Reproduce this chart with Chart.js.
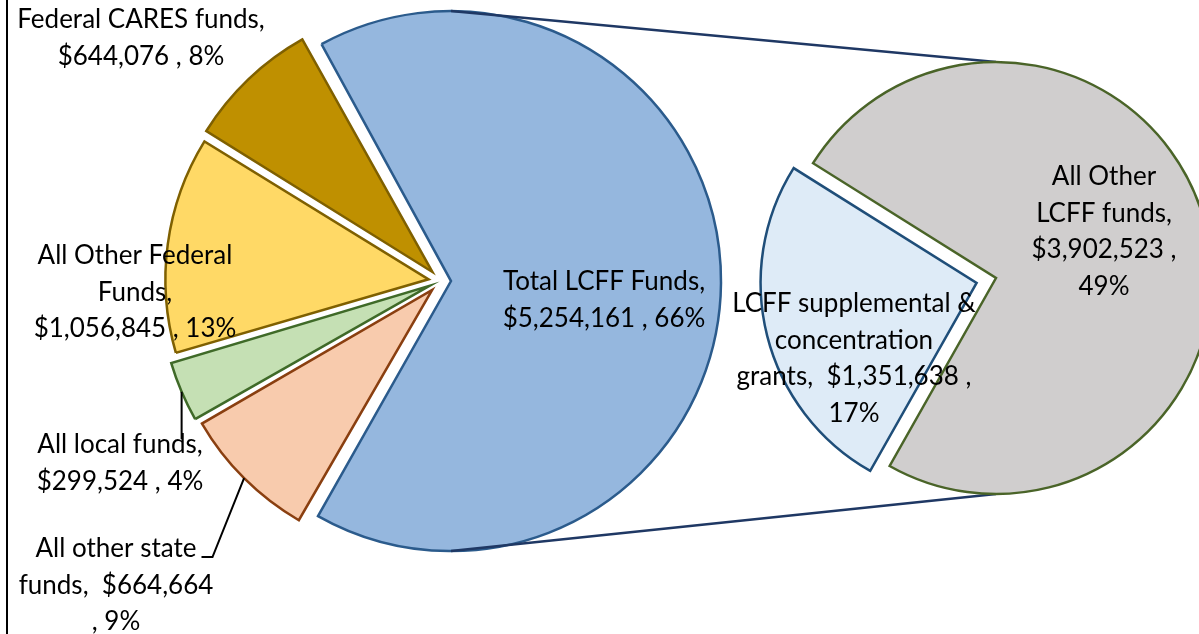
<!DOCTYPE html>
<html>
<head>
<meta charset="utf-8">
<script src="https://cdn.jsdelivr.net/npm/chart.js@4.4.1/dist/chart.umd.min.js"></script>
<style>
  body { margin: 0; background: #fff; }
  #wrap { position: relative; width: 1199px; height: 634px; overflow: hidden; background: #fff; }
  #wrap canvas { position: absolute; left: 0; top: 0; }
  #frame { position: absolute; left: 6px; top: 0; width: 2px; height: 634px; background: #000; }
</style>
</head>
<body>
<div id="wrap">
  <canvas id="mainPie" width="1199" height="634"></canvas>
  <canvas id="subPie" width="1199" height="634"></canvas>
  <div id="frame"></div>
</div>
<script>
// main pie, clockwise from the LCFF slice
const mainLabels = ['Total LCFF Funds', 'All other state funds', 'All local funds', 'All Other Federal Funds', 'Federal CARES funds'];
const mainValues = [5254161, 664664, 299524, 1056845, 644076];
const mainPercents = [66, 9, 4, 13, 8];

// secondary pie: split of Total LCFF Funds
const subLabels = ['LCFF supplemental & concentration grants', 'All Other LCFF funds'];
const subValues = [1351638, 3902523];
const subPercents = [17, 49];

const mainFill = ['#95b7de', '#f8cbad', '#c5e0b4', '#ffd966', '#bf9000'];
const mainBorder = ['#2b5b8c', '#8a3f10', '#3f6a28', '#7f6000', '#7f6000'];
const subFill = ['#deebf7', '#d0cece'];
const subBorder = ['#1f4e79', '#4a6428'];

const FONT = '26px Lato';
const LINE_H = 36.5;

const money = v => '$' + v.toLocaleString('en-US');

// label text + placement (centre x, first baseline)
const mainText = [
  i => ['Total LCFF Funds,', money(mainValues[i]) + ' , ' + mainPercents[i] + '%'],
  i => ['All other state', 'funds,  ' + money(mainValues[i]), ', ' + mainPercents[i] + '%'],
  i => ['All local funds,', money(mainValues[i]) + ' , ' + mainPercents[i] + '%'],
  i => ['All Other Federal', 'Funds,', money(mainValues[i]) + ' , ' + mainPercents[i] + '%'],
  i => ['Federal CARES funds,', money(mainValues[i]) + ' , ' + mainPercents[i] + '%']
];
const mainLabelPos = [[604, 290], [116, 557], [120, 453], [135, 264], [141, 28]];
const subText = [
  i => ['LCFF supplemental &', 'concentration', 'grants,  ' + money(subValues[i]) + ' ,', subPercents[i] + '%'],
  i => ['All Other', 'LCFF funds,', money(subValues[i]) + ' ,', subPercents[i] + '%']
];
const subLabelPos = [[854, 312], [1104, 185]];

// where a slice really sits once its offset is applied
function arcGeom(el) {
  const mid = (el.startAngle + el.endAngle) / 2;
  const t = (el.options.offset || 0) / 4;
  const fix = 1 - Math.sin(Math.min(Math.PI, el.circumference));
  return {
    x: el.x + Math.cos(mid) * t,
    y: el.y + Math.sin(mid) * t,
    r: el.outerRadius + t * fix,
    mid: mid
  };
}

function drawLines(ctx, lines, cx, y0) {
  ctx.save();
  ctx.font = FONT;
  ctx.fillStyle = '#000';
  ctx.textAlign = 'center';
  ctx.textBaseline = 'alphabetic';
  lines.forEach((s, k) => ctx.fillText(s, cx, y0 + k * LINE_H));
  ctx.restore();
}

const mainChart = new Chart(document.getElementById('mainPie'), {
  type: 'pie',
  data: {
    labels: mainLabels,
    datasets: [{
      data: mainValues,
      backgroundColor: mainFill,
      borderColor: mainBorder,
      borderWidth: 2.5,
      borderJoinStyle: 'miter',
      offset: [40, 50, 50, 50, 50],
      radius: 260
    }]
  },
  options: {
    responsive: false,
    animation: false,
    events: [],
    rotation: 331,
    layout: { padding: { left: 0, top: 0, right: 317, bottom: 72 } },
    plugins: { legend: { display: false }, tooltip: { enabled: false } }
  }
});

const overlay = {
  id: 'overlay',
  beforeDatasetsDraw(chart) {
    const ctx = chart.ctx;
    const lcff = arcGeom(mainChart.getDatasetMeta(0).data[0]);
    const other = arcGeom(chart.getDatasetMeta(0).data[1]);
    ctx.save();
    ctx.strokeStyle = '#1f3864';
    ctx.lineWidth = 2.5;
    ctx.beginPath();
    ctx.moveTo(lcff.x, lcff.y - lcff.r);
    ctx.lineTo(other.x, other.y - other.r);
    ctx.moveTo(lcff.x, lcff.y + lcff.r);
    ctx.lineTo(other.x, other.y + other.r);
    ctx.stroke();
    ctx.restore();
  },
  afterDraw(chart) {
    const ctx = chart.ctx;
    const mainArcs = mainChart.getDatasetMeta(0).data;

    mainText.forEach((fn, i) => drawLines(ctx, fn(i), mainLabelPos[i][0], mainLabelPos[i][1]));
    subText.forEach((fn, i) => drawLines(ctx, fn(i), subLabelPos[i][0], subLabelPos[i][1]));

    // leader lines for the two thin slices
    ctx.save();
    ctx.font = FONT;
    ctx.strokeStyle = '#000';
    ctx.lineWidth = 2;

    const local = arcGeom(mainArcs[2]);
    const lp = [local.x + Math.cos(local.mid) * local.r, local.y + Math.sin(local.mid) * local.r];
    ctx.beginPath();
    ctx.moveTo(lp[0], lp[1]);
    ctx.lineTo(lp[0], mainLabelPos[2][1] - 14);
    ctx.stroke();

    const state = arcGeom(mainArcs[1]);
    const sp = [state.x + Math.cos(state.mid) * state.r, state.y + Math.sin(state.mid) * state.r];
    const firstLine = mainText[1](1)[0];
    const right = mainLabelPos[1][0] + ctx.measureText(firstLine).width / 2;
    ctx.beginPath();
    ctx.moveTo(sp[0], sp[1]);
    ctx.lineTo(right + 16, mainLabelPos[1][1]);
    ctx.lineTo(right + 5, mainLabelPos[1][1]);
    ctx.stroke();
    ctx.restore();
  }
};

const subChart = new Chart(document.getElementById('subPie'), {
  type: 'pie',
  data: {
    labels: subLabels,
    datasets: [{
      data: subValues,
      backgroundColor: subFill,
      borderColor: subBorder,
      borderWidth: 2.5,
      borderJoinStyle: 'miter',
      offset: [80, 0],
      radius: 216
    }]
  },
  options: {
    responsive: false,
    animation: false,
    events: [],
    rotation: 209.5,
    layout: { padding: { left: 793, top: 0, right: 0, bottom: 78 } },
    plugins: { legend: { display: false }, tooltip: { enabled: false } }
  },
  plugins: [overlay]
});
</script>
</body>
</html>
